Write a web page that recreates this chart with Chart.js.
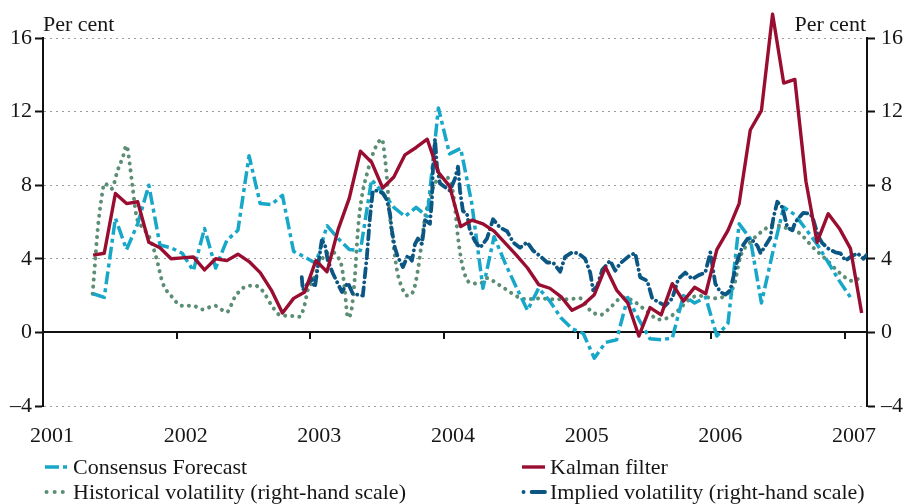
<!DOCTYPE html>
<html><head><meta charset="utf-8">
<script src="https://cdn.jsdelivr.net/npm/chart.js@4.4.0/dist/chart.umd.min.js"></script>
<style>html,body{margin:0;padding:0;background:#fff;}canvas{display:block;}</style>
</head><body>
<canvas id="c" width="906" height="504"></canvas>
<script>
// ---- data ----
const yearTicks = [2001, 2002, 2003, 2004, 2005, 2006, 2007];
const valueTicks = [-4, 0, 4, 8, 12, 16];
const seriesNames = ['Consensus Forecast', 'Kalman filter', 'Historical volatility (right-hand scale)', 'Implied volatility (right-hand scale)'];
const kalmanStart = 2001 + 4 / 12;     // May 2001, monthly
const consensusStart = 2001 + 4 / 12;  // May 2001, monthly
const kalman = [
  4.2, 4.3, 7.55, 7.0, 7.1, 4.9, 4.6, 4.0,
  4.05, 4.1, 3.4, 4.0, 3.9, 4.25, 3.85, 3.25, 2.3, 1.05, 1.85, 2.2,
  3.9, 3.3, 5.6, 7.3, 9.85, 9.25, 7.85, 8.45, 9.65, 10.05, 10.5, 8.7,
  7.95, 5.75, 6.1, 5.9, 5.5, 4.85, 4.2, 3.5, 2.6, 2.4, 1.95, 1.2,
  1.5, 2.05, 3.55, 2.3, 1.6, -0.2, 1.35, 0.95, 2.65, 1.7, 2.45, 2.1,
  4.5, 5.55, 7.0, 11.0, 12.05, 17.3, 13.55, 13.75, 8.2, 4.9, 6.45, 5.65,
  4.55, 1.05
];
const consensus = [
  2.1, 1.9, 6.2, 4.5, 5.9, 8.0, 4.75, 4.6,
  4.3, 3.35, 5.65, 3.5, 5.0, 5.55, 9.6, 7.0, 6.95, 7.45, 4.4, 4.1,
  3.75, 5.8, 5.1, 4.5, 4.45, 8.3, 7.6, 6.8, 6.3, 6.8, 6.3, 12.2,
  9.7, 10.0, 7.0, 2.4, 5.2, 3.75, 2.45, 1.2, 2.4, 1.7, 0.8, 0.2,
  -0.05, -1.4, -0.55, -0.4, 1.9, 0.7, -0.35, -0.4, -0.3, 2.0, 1.6, 1.9,
  -0.2, 0.5, 5.9, 5.1, 1.6, 4.3, 6.8, 6.4, 5.6, 4.8, 3.8, 2.8,
  1.9
];
const historical = [
  [2001.371,2.1],[2001.386,3.5],[2001.408,5.5],[2001.438,7.3],[2001.461,8.1],[2001.513,7.8],[2001.558,8.8],[2001.596,9.5],[2001.625,10.15],[2001.648,9.2],[2001.670,7.9],[2001.700,6.3],[2001.745,5.7],[2001.794,5.2],[2001.850,4.0],[2001.895,2.7],[2001.963,1.95],
  [2002.037,1.45],[2002.120,1.45],[2002.195,1.25],[2002.285,1.45],[2002.375,1.1],[2002.434,1.9],[2002.494,2.4],[2002.584,2.55],[2002.644,2.25],[2002.712,1.45],[2002.772,0.95],[2002.846,0.9],[2002.921,0.85],[2002.959,1.55],[2002.981,2.3],
  [2003.019,2.8],[2003.071,3.75],[2003.124,4.3],[2003.169,4.35],[2003.206,4.1],[2003.236,3.55],[2003.258,2.3],[2003.281,0.8],[2003.311,1.35],[2003.333,3.0],[2003.356,5.55],[2003.386,7.4],[2003.423,8.6],[2003.468,9.7],[2003.506,10.3],[2003.536,10.5],[2003.558,9.5],[2003.573,8.4],[2003.596,6.25],[2003.618,5.0],[2003.648,3.4],[2003.685,2.45],[2003.723,2.0],[2003.768,2.2],[2003.805,3.4],[2003.835,5.0],[2003.858,6.25],[2003.895,7.35],[2003.933,8.1],[2003.985,8.45],
  [2004.030,8.4],[2004.060,7.9],[2004.082,6.8],[2004.105,5.15],[2004.142,3.5],[2004.195,2.7],[2004.270,2.65],[2004.322,2.95],[2004.397,2.65],[2004.472,2.3],[2004.547,1.95],[2004.622,1.8],[2004.719,1.85],[2004.816,1.8],[2004.921,1.8],
  [2005.019,1.85],[2005.094,1.2],[2005.169,0.95],[2005.258,1.45],[2005.333,1.9],[2005.408,1.75],[2005.483,1.35],[2005.543,1.0],[2005.603,0.7],[2005.678,0.8],[2005.753,1.2],[2005.828,1.75],[2005.903,2.0],[2005.978,1.9],
  [2006.045,1.85],[2006.120,2.1],[2006.172,2.6],[2006.217,4.1],[2006.292,4.9],[2006.390,5.55],[2006.464,5.85],[2006.569,5.65],[2006.659,5.4],[2006.757,4.65],[2006.861,3.95],[2006.966,3.2],[2007.056,2.8],[2007.131,3.05]
];
const implied = [
  [2002.936,3.0],[2002.944,2.3],[2002.981,2.65],[2003.011,2.9],[2003.034,2.45],[2003.056,3.55],[2003.086,5.0],[2003.109,4.8],[2003.131,3.9],[2003.169,3.2],[2003.206,2.65],[2003.236,2.2],[2003.281,2.7],[2003.318,2.1],[2003.393,2.0],[2003.423,4.1],[2003.446,6.25],[2003.468,7.7],[2003.506,7.7],[2003.543,7.55],[2003.573,7.2],[2003.596,6.45],[2003.610,5.55],[2003.633,4.6],[2003.655,4.1],[2003.693,3.55],[2003.730,4.2],[2003.760,3.9],[2003.783,4.8],[2003.805,5.1],[2003.835,4.8],[2003.858,6.1],[2003.895,5.9],[2003.910,7.2],[2003.918,9.0],[2003.933,10.5],[2003.948,9.0],[2003.970,8.1],
  [2004.007,7.9],[2004.045,7.7],[2004.082,8.35],[2004.105,9.0],[2004.120,7.7],[2004.142,6.6],[2004.172,6.45],[2004.195,5.5],[2004.233,4.95],[2004.270,4.6],[2004.322,5.1],[2004.367,6.15],[2004.419,5.7],[2004.472,5.5],[2004.517,4.9],[2004.569,4.6],[2004.622,4.9],[2004.667,4.45],[2004.719,4.15],[2004.772,3.8],[2004.816,3.8],[2004.869,3.3],[2004.906,4.1],[2004.959,4.35],
  [2005.004,4.3],[2005.056,4.0],[2005.094,3.25],[2005.116,2.3],[2005.146,2.5],[2005.184,3.4],[2005.243,3.9],[2005.281,3.35],[2005.318,3.75],[2005.393,4.2],[2005.431,4.3],[2005.468,3.0],[2005.521,2.8],[2005.558,1.85],[2005.603,1.65],[2005.655,1.45],[2005.708,1.85],[2005.753,2.9],[2005.805,3.25],[2005.858,2.9],[2005.903,3.1],[2005.955,3.25],[2005.993,4.35],
  [2006.030,2.65],[2006.067,2.2],[2006.105,2.05],[2006.142,2.3],[2006.195,3.9],[2006.234,4.7],[2006.272,5.1],[2006.309,5.0],[2006.346,4.7],[2006.369,4.3],[2006.404,4.7],[2006.442,5.15],[2006.464,6.2],[2006.494,7.1],[2006.532,6.8],[2006.569,5.7],[2006.606,5.55],[2006.629,6.0],[2006.689,6.5],[2006.742,6.45],[2006.764,6.1],[2006.801,5.2],[2006.831,4.85],[2006.876,4.55],[2006.929,4.35],[2006.966,4.3],[2007.004,3.9],[2007.041,4.1],[2007.094,4.3],[2007.139,4.0],[2007.161,4.2]
];

// ---- styles ----
const FONT = "'Liberation Serif', 'Times New Roman', serif";
const TXT = '#161616';
const C_CYAN = '#16a7c9', C_RED = '#990d30', C_GREEN = '#5c8e76', C_BLUE = '#0b5683';

const monthly = (start, arr) => arr.map((v, i) => ({ x: start + (i + 0.5) / 12, y: v }));
const pairs = arr => arr.map(p => ({ x: p[0], y: p[1] }));

const styles = [
  { color: C_CYAN, width: 3.5, dash: [13, 4, 4, 4], cap: 'butt', legendDash: [14, 4, 4, 20] },
  { color: C_RED, width: 3.4, dash: [], cap: 'butt', legendDash: [] },
  { color: C_GREEN, width: 4, dash: [0.1, 7], cap: 'round', legendDash: [0.1, 8] },
  { color: C_BLUE, width: 3.8, dash: [9, 5, 0.1, 5], cap: 'round', legendDash: [0.1, 8, 14, 20] }
];

const decor = {
  id: 'decor',
  beforeDatasetsDraw(chart) {
    const { ctx, chartArea } = chart;
    const xs = chart.scales.x, ys = chart.scales.y;
    const y0 = Math.round(ys.getPixelForValue(0));
    ctx.save();
    ctx.strokeStyle = '#111';
    ctx.lineWidth = 2;
    ctx.beginPath();
    ctx.moveTo(chartArea.left, y0);
    ctx.lineTo(chartArea.right, y0);
    yearTicks.slice(1).forEach(v => {
      const px = Math.round(xs.getPixelForValue(v));
      ctx.moveTo(px, y0);
      ctx.lineTo(px, y0 + 7);
    });
    ctx.stroke();
    ctx.restore();
  },
  afterDraw(chart) {
    const { ctx, chartArea } = chart;
    ctx.save();
    ctx.font = '22px ' + FONT;
    ctx.fillStyle = TXT;
    ctx.textBaseline = 'alphabetic';
    ctx.textAlign = 'left';
    ctx.fillText('Per cent', chartArea.left, 31);
    ctx.textAlign = 'right';
    ctx.fillText('Per cent', chartArea.right - 1, 31);
    // legend
    const slots = [[45, 467], [522, 467], [45, 492], [522, 492]];
    slots.forEach((s, i) => {
      const st = styles[i];
      ctx.save();
      ctx.strokeStyle = st.color;
      ctx.lineWidth = st.width;
      ctx.lineCap = st.cap;
      ctx.setLineDash(st.legendDash);
      ctx.beginPath();
      ctx.moveTo(s[0] + (st.cap === 'round' ? 1.5 : 0), s[1]);
      ctx.lineTo(s[0] + 23, s[1]);
      ctx.stroke();
      ctx.restore();
      ctx.textAlign = 'left';
      ctx.textBaseline = 'middle';
      ctx.fillText(seriesNames[i], s[0] + 28, s[1] + 1);
    });
    ctx.restore();
  }
};

const mk = (i, data, axis, extra) => Object.assign({
  label: seriesNames[i], data, yAxisID: axis,
  borderColor: styles[i].color, backgroundColor: styles[i].color,
  borderWidth: styles[i].width, borderDash: styles[i].dash, borderCapStyle: styles[i].cap,
  borderJoinStyle: 'round', pointRadius: 0, tension: 0, fill: false
}, extra || {});

new Chart(document.getElementById('c').getContext('2d'), {
  type: 'line',
  data: {
    datasets: [
      mk(0, monthly(consensusStart, consensus), 'y', { order: 3 }),
      mk(1, monthly(kalmanStart, kalman), 'y', { order: 1, clip: false }),
      mk(2, pairs(historical), 'y2', { order: 4, cubicInterpolationMode: 'monotone' }),
      mk(3, pairs(implied), 'y2', { order: 2 })
    ]
  },
  options: {
    responsive: false, animation: false, devicePixelRatio: 1,
    layout: { padding: { top: 38, left: 0, right: 0, bottom: 0 } },
    plugins: { legend: { display: false }, tooltip: { enabled: false } },
    scales: {
      x: {
        type: 'linear', position: 'bottom', min: 2001, max: 2007.165,
        afterBuildTicks: s => { s.ticks = yearTicks.map(v => ({ value: v })); },
        afterFit: s => { s.height = 98; },
        grid: { display: false, drawTicks: false },
        border: { display: false },
        ticks: { padding: 17, labelOffset: 9, color: TXT, font: { family: FONT, size: 22 }, maxRotation: 0, autoSkip: false, callback: v => String(v) }
      },
      y: {
        position: 'left', min: -4, max: 16,
        afterBuildTicks: s => { s.ticks = valueTicks.map(v => ({ value: v })); },
        afterFit: s => { s.width = 43; },
        grid: {
          color: c => (c.tick && c.tick.value === 0) ? 'rgba(0,0,0,0)' : '#9c9c9c',
          lineWidth: 1, tickLength: 8, tickColor: '#111', tickWidth: 2, tickBorderDash: []
        },
        border: { display: true, color: '#111', width: 2, dash: [2, 4] },
        ticks: { padding: 3, color: TXT, font: { family: FONT, size: 22 }, callback: v => v < 0 ? '\u2013' + Math.abs(v) : String(v) }
      },
      y2: {
        position: 'right', min: -4, max: 16,
        afterBuildTicks: s => { s.ticks = valueTicks.map(v => ({ value: v })); },
        afterFit: s => { s.width = 39; },
        grid: { drawOnChartArea: false, tickLength: 8, tickColor: '#111', tickWidth: 2 },
        border: { display: true, color: '#111', width: 2 },
        ticks: { padding: 6, color: TXT, font: { family: FONT, size: 22 }, callback: v => v < 0 ? '\u2013' + Math.abs(v) : String(v) }
      }
    }
  },
  plugins: [decor]
});
</script>
</body></html>
